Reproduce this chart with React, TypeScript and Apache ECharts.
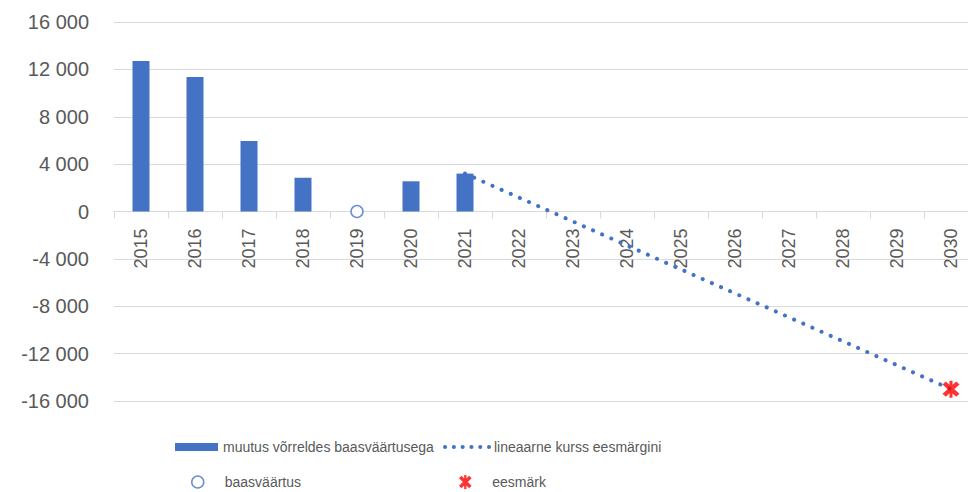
import React, { useEffect, useRef } from "react";
import * as echarts from "echarts";

const years = ["2015", "2016", "2017", "2018", "2019", "2020", "2021", "2022", "2023", "2024", "2025", "2026", "2027", "2028", "2029", "2030"];
const changeValues: (number | null)[] = [12700, 11350, 5950, 2850, null, 2550, 3200, null, null, null, null, null, null, null, null, null];
const trendValues: (number | null)[] = [null, null, null, null, null, null, 3200, null, null, null, null, null, null, null, null, -15000];
const baseValues: (number | null)[] = [null, null, null, null, 0, null, null, null, null, null, null, null, null, null, null, null];
const targetValues: (number | null)[] = [null, null, null, null, null, null, null, null, null, null, null, null, null, null, null, -15000];

const seriesNames = ["muutus võrreldes baasväärtusega", "lineaarne kurss eesmärgini", "baasväärtus", "eesmärk"];

const BLUE = "#4472C4";
const RED = "#FF0000";
const TEXT = "#595959";
const GRID = "#D9D9D9";
const FONT = "'Liberation Sans', Arial, sans-serif";

const STAR =
  "path://M-1.6,-10L1.6,-10L1.6,10L-1.6,10Z M-5.5,-9L9,5.5L5.5,9L-9,-5.5Z M9,-5.5L-5.5,9L-9,5.5L5.5,-9Z";

function fmt(v: number): string {
  const s = Math.abs(v).toString().replace(/\B(?=(\d{3})+(?!\d))/g, " ");
  return (v < 0 ? "-" : "") + s;
}

const toData = (arr: (number | null)[]) => arr.map((v) => (v === null ? "-" : v));

export default function App() {
  const ref = useRef<HTMLDivElement>(null);
  useEffect(() => {
    if (!ref.current) return;
    const chart = echarts.init(ref.current, undefined, { renderer: "svg" });
    const legendText = { fontFamily: FONT, fontSize: 14, color: TEXT };
    chart.setOption({
      animation: false,
      backgroundColor: "#ffffff",
      textStyle: { fontFamily: FONT },
      grid: { left: 114, top: 22, width: 864, height: 379, containLabel: false, outerBoundsMode: "none" },
      legend: [
        { data: [seriesNames[0]], left: 175, top: 440, padding: 0, itemWidth: 43, itemHeight: 8, textStyle: legendText, icon: "rect" },
        {
          data: [seriesNames[1]], left: 443, top: 440, padding: 0, itemWidth: 44, itemHeight: 8, textStyle: legendText,
          itemStyle: { opacity: 0 },
          lineStyle: { type: [0.1, 8.7], width: 4, cap: "round", color: BLUE },
        },
        { data: [seriesNames[2]], left: 191, top: 475, padding: 0, itemWidth: 44, itemHeight: 12, textStyle: legendText, itemStyle: { borderWidth: 1.5 } },
        { data: [{ name: seriesNames[3], icon: STAR }], left: 459, top: 475, padding: 0, itemWidth: 44, itemHeight: 14, textStyle: legendText },
      ],
      xAxis: {
        type: "category",
        data: years,
        boundaryGap: true,
        offset: -189.5,
        axisLine: { onZero: false, lineStyle: { color: GRID, width: 1 } },
        axisTick: { show: true, length: 7, lineStyle: { color: GRID } },
        axisLabel: { rotate: 90, margin: 17, color: TEXT, fontSize: 18, fontFamily: FONT, interval: 0 },
        splitLine: { show: false },
      },
      yAxis: {
        type: "value",
        min: -16000,
        max: 16000,
        interval: 4000,
        axisLine: { show: false },
        axisTick: { show: false },
        axisLabel: { color: TEXT, fontSize: 20, fontFamily: FONT, margin: 25, formatter: (v: number) => fmt(v) },
        splitLine: { lineStyle: { color: GRID, width: 1 } },
      },
      series: [
        {
          name: seriesNames[0],
          type: "bar",
          data: toData(changeValues),
          barWidth: 17,
          itemStyle: { color: BLUE },
          z: 2,
        },
        {
          name: seriesNames[1],
          type: "line",
          data: toData(trendValues),
          connectNulls: true,
          symbol: "none",
          itemStyle: { color: BLUE },
          lineStyle: { color: BLUE, width: 4, type: [0.1, 9.9], cap: "round" },
          z: 3,
        },
        {
          name: seriesNames[2],
          type: "scatter",
          data: toData(baseValues),
          symbol: "circle",
          symbolSize: 12,
          itemStyle: { color: "#ffffff", borderColor: BLUE, borderWidth: 1.5 },
          z: 4,
        },
        {
          name: seriesNames[3],
          type: "scatter",
          data: toData(targetValues),
          symbol: STAR,
          symbolSize: 17,
          itemStyle: { color: RED },
          z: 5,
        },
      ],
    });
    return () => chart.dispose();
  }, []);
  return (
    <div
      ref={ref}
      style={{ position: "fixed", left: 0, top: 0, width: 968, height: 492, background: "#fff" }}
    />
  );
}
